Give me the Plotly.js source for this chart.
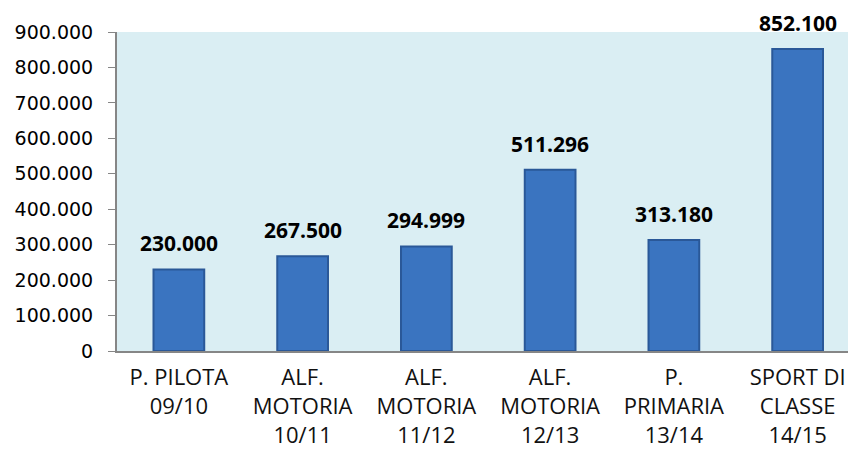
<!DOCTYPE html>
<html><head><meta charset="utf-8">
<script src="https://cdn.plot.ly/plotly-3.0.1.min.js"></script>
<style>html,body{margin:0;padding:0;background:#fff}#chart{width:848px;height:453px}</style>
</head><body><div id="chart"></div>
<script>
const categories = ["P. PILOTA<br>09/10", "ALF.<br>MOTORIA<br>10/11", "ALF.<br>MOTORIA<br>11/12", "ALF.<br>MOTORIA<br>12/13", "P.<br>PRIMARIA<br>13/14", "SPORT DI<br>CLASSE<br>14/15"];
const values = [230000, 267500, 294999, 511296, 313180, 852100];
const valueLabels = ["230.000", "267.500", "294.999", "511.296", "313.180", "852.100"];
const tickVals = [0, 100000, 200000, 300000, 400000, 500000, 600000, 700000, 800000, 900000];
const tickText = ["0", "100.000", "200.000", "300.000", "400.000", "500.000", "600.000", "700.000", "800.000", "900.000"];

const xIdx = categories.map((c, i) => i);

const traces = [{
  type: 'bar', x: xIdx, y: values, width: 0.41,
  marker: {color: '#3A74C0', line: {color: '#2A5898', width: 2}},
  hoverinfo: 'skip', cliponaxis: false
}];

const annotations = values.map((v, i) => ({
  x: i, y: v, xref: 'x', yref: 'y', text: '<b>' + valueLabels[i] + '</b>',
  showarrow: false, yanchor: 'bottom', yshift: 10,
  font: {family: 'Open Sans', size: 21, color: '#000'}
}));

const layout = {
  width: 848, height: 453,
  margin: {l: 117, r: 0, t: 32, b: 102},
  paper_bgcolor: '#fff', plot_bgcolor: '#DAEEF3',
  showlegend: false,
  xaxis: {
    range: [-0.5, 5.407], tickvals: xIdx, ticktext: categories,
    showgrid: false, zeroline: false, showline: true, linecolor: '#868686', linewidth: 2,
    ticks: '', tickfont: {family: 'Open Sans', size: 22, color: '#111'},
    ticklabelstandoff: 6, fixedrange: true
  },
  yaxis: {
    range: [0, 900000], tickvals: tickVals, ticktext: tickText,
    showgrid: false, zeroline: false, showline: true, linecolor: '#868686', linewidth: 2,
    ticks: 'outside', ticklen: 7, tickcolor: '#868686', tickwidth: 1,
    tickfont: {family: 'DejaVu Sans', size: 19, color: '#000'},
    ticklabelstandoff: 11, fixedrange: true
  },
  annotations: annotations
};

Plotly.newPlot('chart', traces, layout, {displayModeBar: false, staticPlot: true});
</script></body></html>
